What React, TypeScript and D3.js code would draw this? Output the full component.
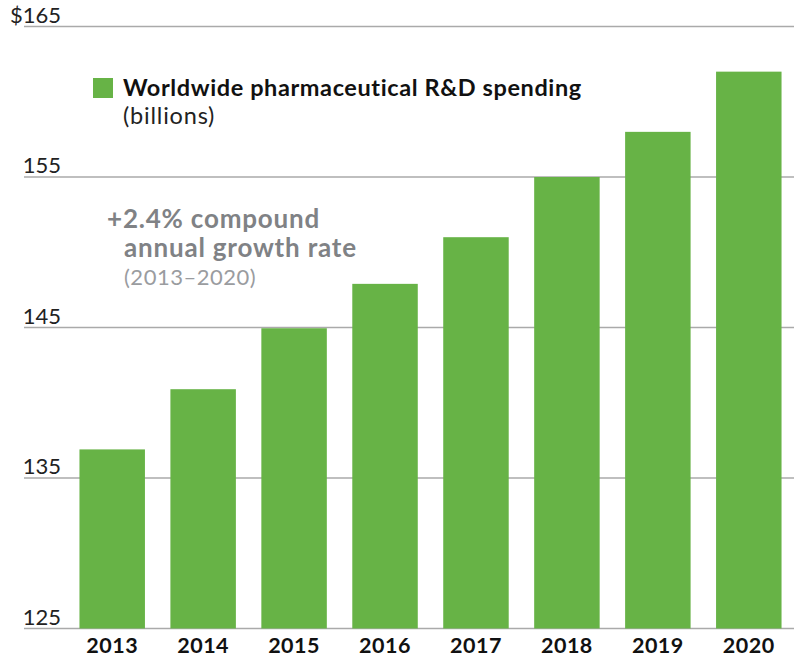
import { useEffect, useRef } from 'react'
import * as d3 from 'd3'

const years = ['2013', '2014', '2015', '2016', '2017', '2018', '2019', '2020']
const spending = [136.9, 140.9, 144.95, 147.9, 151.0, 155.0, 158.0, 162.0]
const yTicks = [125, 135, 145, 155, 165]

const legendLabel = 'Worldwide pharmaceutical R&D spending'
const legendUnit = '(billions)'
const cagrLines = ['+2.4% compound', 'annual growth rate']
const cagrPeriod = '(2013–2020)'

export default function App() {
  const ref = useRef<SVGSVGElement>(null)

  useEffect(() => {
    const svg = d3.select(ref.current)
    svg.selectAll('*').remove()

    const width = 794
    const height = 659
    const font = 'Lato, "Open Sans", sans-serif'
    const barColor = '#67b346'

    const x = d3.scaleBand()
      .domain(years)
      .range([54, 807])
      .paddingInner(0.28)
      .paddingOuter(0.28)

    const y = d3.scaleLinear()
      .domain([125, 165])
      .range([628.5, 26.5])

    // Grid lines + tick labels
    const grid = svg.append('g')
    grid.selectAll('line')
      .data(yTicks)
      .enter().append('line')
      .attr('x1', 24)
      .attr('x2', width)
      .attr('y1', d => y(d))
      .attr('y2', d => y(d))
      .attr('stroke', '#aaaaaa')
      .attr('stroke-width', 1.5)

    grid.selectAll('text')
      .data(yTicks)
      .enter().append('text')
      .attr('x', 61)
      .attr('y', d => y(d) - 4)
      .attr('text-anchor', 'end')
      .attr('font-family', font)
      .attr('font-size', 22)
      .attr('fill', '#222')
      .text((d, i) => (i === yTicks.length - 1 ? `$${d}` : `${d}`))

    // Bars
    svg.append('g')
      .selectAll('rect')
      .data(spending)
      .enter().append('rect')
      .attr('x', (_, i) => x(years[i]) as number)
      .attr('width', x.bandwidth())
      .attr('y', d => y(d))
      .attr('height', d => y(125) - y(d))
      .attr('fill', barColor)

    // Year labels
    svg.append('g')
      .selectAll('text')
      .data(years)
      .enter().append('text')
      .attr('x', d => (x(d) as number) + x.bandwidth() / 2)
      .attr('y', 653)
      .attr('text-anchor', 'middle')
      .attr('font-family', font)
      .attr('font-weight', 700)
      .attr('font-size', 21.5)
      .attr('letter-spacing', 0.5)
      .attr('fill', '#111')
      .text(d => d)

    // Legend
    svg.append('rect')
      .attr('x', 93)
      .attr('y', 78)
      .attr('width', 20)
      .attr('height', 20)
      .attr('fill', barColor)

    svg.append('text')
      .attr('x', 123)
      .attr('y', 96)
      .attr('font-family', font)
      .attr('font-weight', 700)
      .attr('font-size', 23.5)
      .attr('letter-spacing', 0.6)
      .attr('fill', '#111')
      .text(legendLabel)

    svg.append('text')
      .attr('x', 123)
      .attr('y', 124)
      .attr('font-family', font)
      .attr('font-size', 23.5)
      .attr('letter-spacing', 0.8)
      .attr('fill', '#222')
      .text(legendUnit)

    // CAGR annotation
    svg.append('text')
      .attr('x', 107)
      .attr('y', 228)
      .attr('font-family', font)
      .attr('font-weight', 700)
      .attr('font-size', 26)
      .attr('letter-spacing', 0.8)
      .attr('fill', '#808285')
      .text(cagrLines[0])

    svg.append('text')
      .attr('x', 124)
      .attr('y', 257)
      .attr('font-family', font)
      .attr('font-weight', 700)
      .attr('font-size', 26)
      .attr('letter-spacing', 0.8)
      .attr('fill', '#808285')
      .text(cagrLines[1])

    svg.append('text')
      .attr('x', 124)
      .attr('y', 285)
      .attr('font-family', font)
      .attr('font-size', 22)
      .attr('letter-spacing', 0.5)
      .attr('fill', '#9a9c9f')
      .text(cagrPeriod)

    svg.attr('width', width).attr('height', height)
  }, [])

  return (
    <svg
      ref={ref}
      width={794}
      height={659}
      style={{ position: 'absolute', left: 0, top: 0, background: '#fff' }}
    />
  )
}
